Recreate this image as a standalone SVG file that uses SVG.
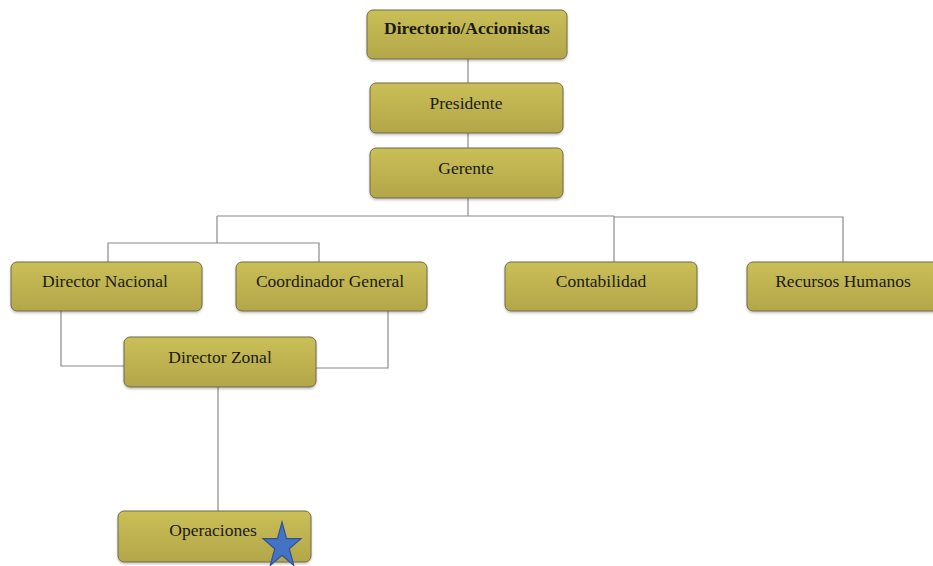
<svg xmlns="http://www.w3.org/2000/svg" width="933" height="566" viewBox="0 0 933 566">
  <defs>
    <linearGradient id="olive" x1="0" y1="0" x2="0" y2="1">
      <stop offset="0" stop-color="#CBBF57"/>
      <stop offset="1" stop-color="#B2A64A"/>
    </linearGradient>
    <filter id="shadow" x="-10%" y="-10%" width="120%" height="130%">
      <feDropShadow dx="0" dy="1.5" stdDeviation="1" flood-color="#000" flood-opacity="0.25"/>
    </filter>
  </defs>
  <style>
    .box { fill: url(#olive); stroke: #6E6A4A; stroke-width: 1; filter: url(#shadow); }
    .label { font-family: "Liberation Serif", "Times New Roman", serif; font-size: 17.5px; fill: #1A1A14; text-anchor: middle; }
    .bold { font-weight: bold; }
    .link { fill: none; stroke: #8A8A8A; stroke-width: 1.2; }
  </style>
  <rect width="933" height="566" fill="#FFFFFF"/>

  <!-- connectors -->
  <g id="connectors">
    <path class="link" d="M468 59 V83"/>
    <path class="link" d="M468 133 V148"/>
    <path class="link" d="M468 198 V216"/>
    <path class="link" d="M217 216 H614"/>
    <path class="link" d="M614 217 H843 V262"/>
    <path class="link" d="M614 216 V262"/>
    <path class="link" d="M217 216 V243"/>
    <path class="link" d="M108 262 V243 H319 V262"/>
    <path class="link" d="M61 311 V366 H124"/>
    <path class="link" d="M388 311 V368 H316"/>
    <path class="link" d="M218 387 V511"/>
  </g>

  <g id="node-directorio">
    <rect class="box" x="367" y="10" width="200" height="49" rx="6"/>
    <text class="label bold" x="467" y="34">Directorio/Accionistas</text>
  </g>
  <g id="node-presidente">
    <rect class="box" x="370" y="83" width="193" height="50" rx="6"/>
    <text class="label" x="466" y="109">Presidente</text>
  </g>
  <g id="node-gerente">
    <rect class="box" x="370" y="148" width="193" height="50" rx="6"/>
    <text class="label" x="466" y="174">Gerente</text>
  </g>
  <g id="node-director-nacional">
    <rect class="box" x="11" y="262" width="191" height="49" rx="6"/>
    <text class="label" x="105" y="287">Director Nacional</text>
  </g>
  <g id="node-coordinador-general">
    <rect class="box" x="236" y="262" width="191" height="49" rx="6"/>
    <text class="label" x="330" y="287">Coordinador General</text>
  </g>
  <g id="node-contabilidad">
    <rect class="box" x="505" y="262" width="192" height="49" rx="6"/>
    <text class="label" x="601" y="287">Contabilidad</text>
  </g>
  <g id="node-recursos-humanos">
    <rect class="box" x="747" y="262" width="192" height="49" rx="6"/>
    <text class="label" x="843" y="287">Recursos Humanos</text>
  </g>
  <g id="node-director-zonal">
    <rect class="box" x="124" y="337" width="192" height="50" rx="6"/>
    <text class="label" x="220" y="363">Director Zonal</text>
  </g>
  <g id="node-operaciones">
    <rect class="box" x="118" y="511" width="193" height="51" rx="6"/>
    <text class="label" x="213" y="536">Operaciones</text>
    <polygon points="282,522 286.5,538.6 301,538.6 289.3,548.8 293.8,565.4 282,555.2 270.2,565.4 274.7,548.8 263,538.6 277.5,538.6" fill="#4472C4" stroke="#2F528F" stroke-width="1.2" stroke-linejoin="miter"/>
  </g>
</svg>
